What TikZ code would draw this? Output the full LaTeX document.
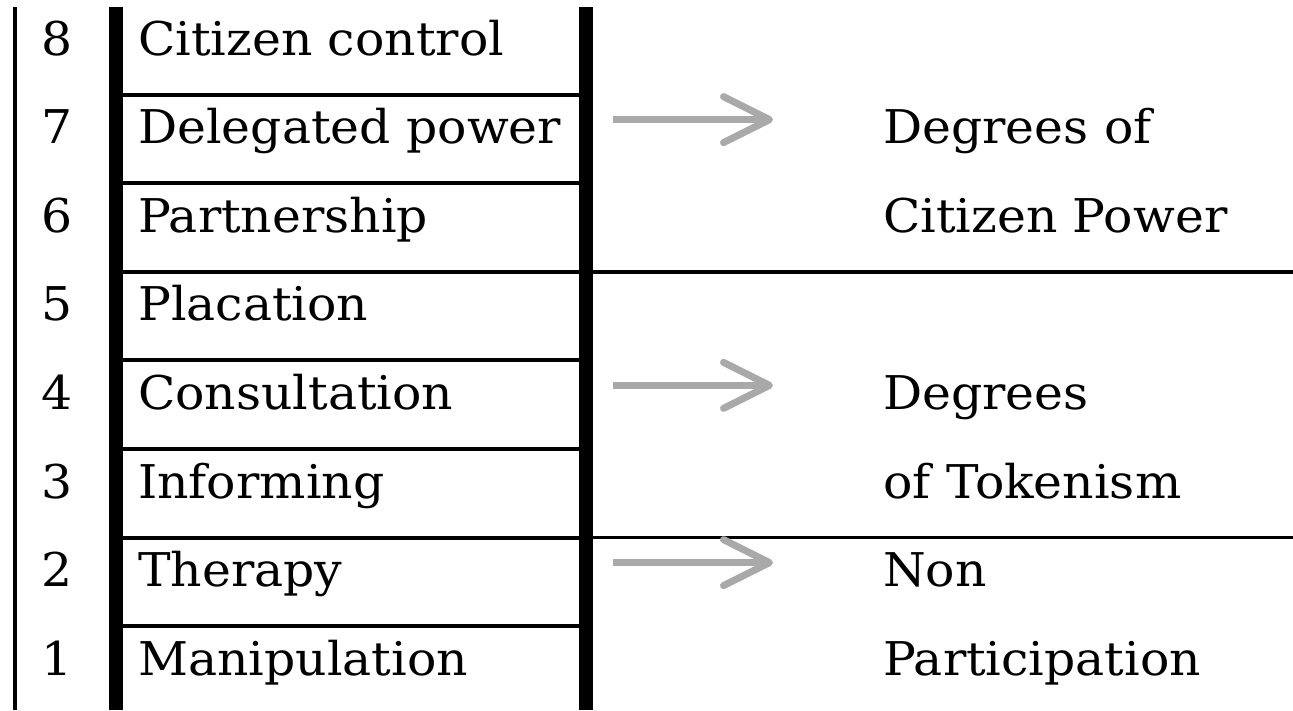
\documentclass[tikz,border=0pt]{standalone}
\usepackage{fontspec}
\setmainfont{DejaVu Serif}[FakeStretch=1.05]
\usetikzlibrary{arrows.meta}
\definecolor{arrowgray}{HTML}{A9A9A9}
\begin{document}
\begin{tikzpicture}[x=1pt,y=-1pt,
  lbl/.style={anchor=base west,inner sep=0pt,font=\fontsize{46.5}{50}\selectfont},
  num/.style={anchor=base,inner sep=0pt,font=\fontsize{46.5}{50}\selectfont},
  thinrule/.style={line width=4pt},
  siderule/.style={line width=3.4pt},
  thickrule/.style={line width=13.5pt},
  leftrule/.style={line width=4pt},
  sidearrow/.style={draw=arrowgray,line width=7pt,-{Straight Barb[length=46pt,width=46pt,round]}}]
\useasboundingbox (0,0) rectangle (1293,710);
% vertical rules
\draw[leftrule] (15.3,7) -- (15.3,710);
\draw[thickrule] (116,7) -- (116,710);
\draw[thickrule] (586,7) -- (586,710);
% row separators
\foreach \k in {1,...,7}{
  \draw[thinrule] (116,{6+88.6*\k}) -- (586,{6+88.6*\k});
}
\draw[siderule] (586,{6+88.6*3}) -- (1293,{6+88.6*3});
\draw[siderule] (586,{6+88.6*6}) -- (1293,{6+88.6*6});
% rows
\foreach \k/\n/\t in {0/8/Citizen control,1/7/Delegated power,2/6/Partnership,3/5/Placation,4/4/Consultation,5/3/Informing,6/2/Therapy,7/1/Manipulation}{
  \node[num] (n\n) at (57,{55+88.6*\k}) {\n};
  \node[lbl] (l\n) at (138,{55+88.6*\k}) {\t};
}
% right labels
\node[lbl] (cp1) at (883,{55+88.6*1}) {Degrees of};
\node[lbl] (cp2) at (883,{55+88.6*2}) {Citizen Power};
\node[lbl] (tk1) at (883,{55+88.6*4}) {Degrees};
\node[lbl] (tk2) at (883,{55+88.6*5}) {of Tokenism};
\node[lbl] (np1) at (883,{55+88.6*6}) {Non};
\node[lbl] (np2) at (883,{55+88.6*7}) {Participation};
% arrows
\foreach \k/\m in {1/a,4/b,6/c}{
  \coordinate (\m s) at (613,{31+88.6*\k});
  \coordinate (\m e) at (773,{31+88.6*\k});
  \draw[sidearrow] (\m s) -- (\m e);
}
\end{tikzpicture}
\end{document}
